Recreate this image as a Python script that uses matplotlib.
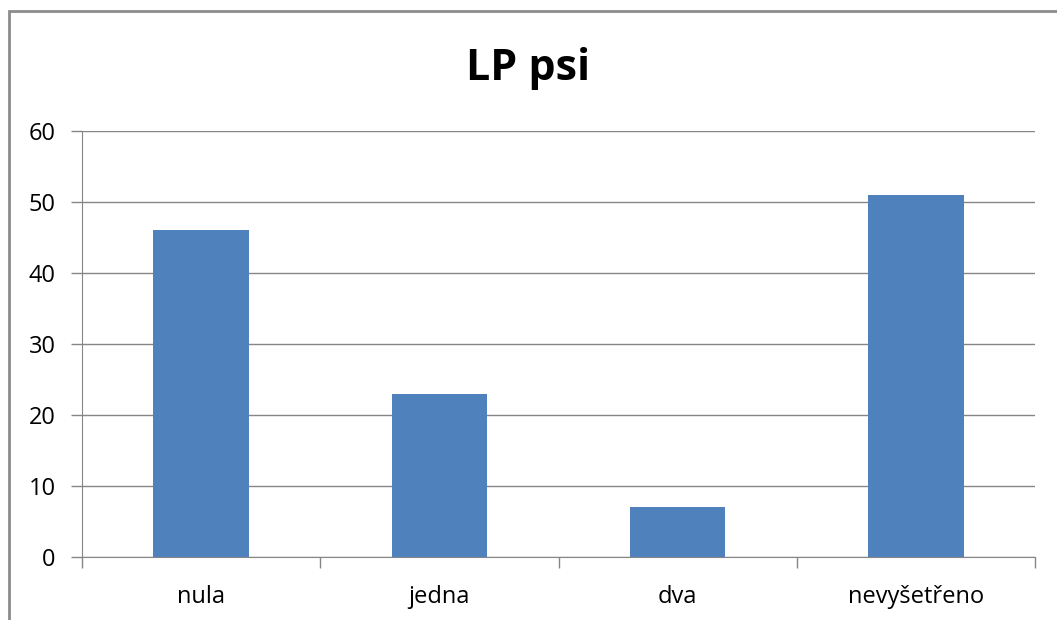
import matplotlib.pyplot as plt
from matplotlib.patches import Rectangle

# Data
kategorie = ['nula', 'jedna', 'dva', 'nevyšetřeno']
hodnoty = [46, 23, 7, 51]

plt.rcParams['font.family'] = ['Open Sans', 'DejaVu Sans']

fig = plt.figure(figsize=(10.57, 6.2), dpi=100)
W, H = 1057, 620
# plot area in pixels: left 82, right 1035, top 131, bottom 557
ax = fig.add_axes([82 / W, 1 - 557 / H, (1035 - 82) / W, (557 - 131) / H])

x = range(len(kategorie))
ax.bar(x, hodnoty, width=0.4, color='#4F81BD', zorder=3)

ax.set_xlim(-0.5, len(kategorie) - 0.5)
ax.set_ylim(0, 60)
ax.set_yticks(range(0, 61, 10))
ax.set_xticks(list(x))
ax.set_xticklabels(kategorie, fontsize=17)
ax.tick_params(axis='x', length=0, pad=20)
ax.tick_params(axis='y', labelsize=17, length=8, color='#868686', width=1, pad=11)
ax.set_xticks([i - 0.5 for i in range(len(kategorie) + 1)], minor=True)
ax.tick_params(axis='x', which='minor', length=8, color='#868686', width=1)

ax.grid(axis='y', color='#868686', linewidth=1, zorder=0)
for s in ['top', 'right']:
    ax.spines[s].set_visible(False)
ax.spines['left'].set_color('#868686')
ax.spines['bottom'].set_color('#868686')

fig.text(0.5, 1 - 68 / H, 'LP psi', ha='center', va='center',
         fontsize=31, fontweight='bold')

# chart frame (cropped at right and bottom)
fig.patches.append(Rectangle((9 / W, -0.1), 1.2, 1 - 11 / H + 0.1,
                             transform=fig.transFigure, fill=False,
                             edgecolor='#8c8c8c', linewidth=2))

fig.savefig('out.png', dpi=100)
